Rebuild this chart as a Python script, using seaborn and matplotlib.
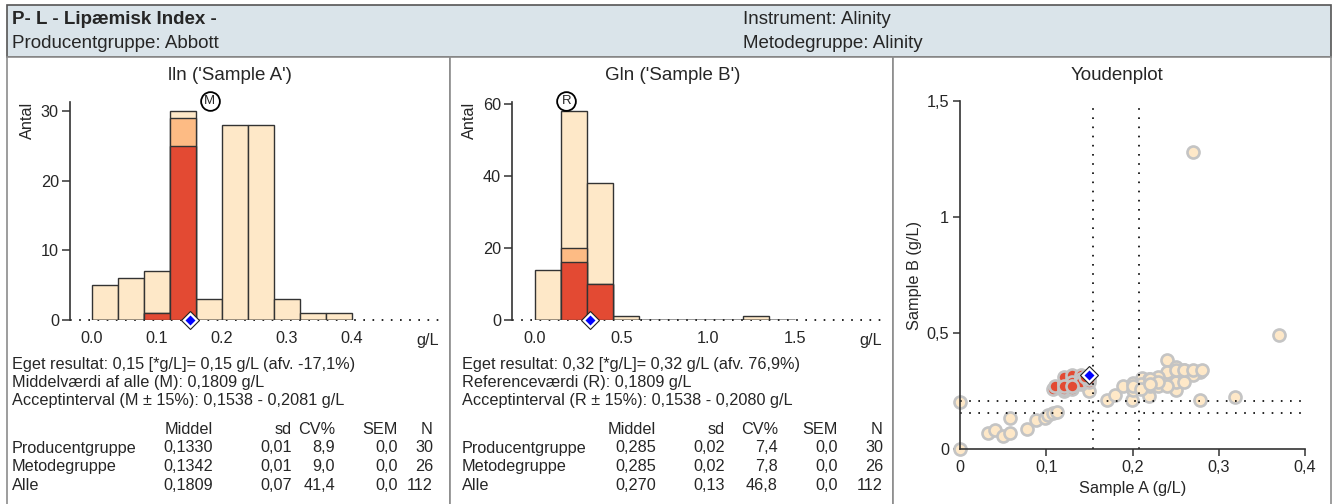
import numpy as np
import pandas as pd
import matplotlib
matplotlib.use("Agg")
import matplotlib.pyplot as plt
import seaborn as sns
from matplotlib.patches import Rectangle

# ---------------- data ----------------
edges_A = [0.0, 0.04, 0.08, 0.12, 0.16, 0.20, 0.24, 0.28, 0.32, 0.36, 0.40]
all_A = [5, 6, 7, 30, 3, 28, 28, 3, 1, 1]
prod_A = [0, 0, 1, 29, 0, 0, 0, 0, 0, 0]
meth_A = [0, 0, 1, 25, 0, 0, 0, 0, 0, 0]

edges_B = [0.0, 0.15, 0.30, 0.45, 0.60, 0.75, 0.90, 1.05, 1.20, 1.35, 1.50]
all_B = [14, 58, 38, 1, 0, 0, 0, 0, 1, 0]
prod_B = [0, 20, 10, 0, 0, 0, 0, 0, 0, 0]
meth_B = [0, 16, 10, 0, 0, 0, 0, 0, 0, 0]

own_A, own_B = 0.15, 0.32
mean_A, ref_B = 0.1809, 0.1809
acc_A = [0.1538, 0.2081]
acc_B = [0.1538, 0.2080]

ticks_A = [0.0, 0.1, 0.2, 0.3, 0.4]
ticklabels_A = ["0.0", "0.1", "0.2", "0.3", "0.4"]
ticks_B = [0.0, 0.5, 1.0, 1.5]
ticklabels_B = ["0.0", "0.5", "1.0", "1.5"]
yticks_A = [0, 10, 20, 30]
yticks_B = [0, 20, 40, 60]
youden_xticks = [0, 0.1, 0.2, 0.3, 0.4]
youden_xlabels = ["0", "0,1", "0,2", "0,3", "0,4"]
youden_yticks = [0, 0.5, 1.0, 1.5]
youden_ylabels = ["0", "0,5", "1", "1,5"]

light_x = [0, 0, 0.033, 0.041, 0.050, 0.058, 0.058, 0.078, 0.088, 0.099, 0.102, 0.108,
           0.112, 0.15, 0.17, 0.18, 0.189, 0.199, 0.20, 0.201, 0.211, 0.219, 0.219, 0.229,
           0.23, 0.24, 0.24, 0.24, 0.25, 0.25, 0.26, 0.26, 0.262, 0.278, 0.278, 0.278,
           0.319, 0.27, 0.37, 0.21, 0.22, 0.22, 0.23, 0.24, 0.25, 0.25, 0.26, 0.27, 0.27,
           0.26, 0.24, 0.25, 0.23, 0.20, 0.21, 0.22, 0.24, 0.26, 0.27, 0.28, 0.23, 0.22]
light_y = [0, 0.204, 0.070, 0.082, 0.056, 0.068, 0.132, 0.086, 0.125, 0.132, 0.146, 0.154,
           0.161, 0.25, 0.211, 0.233, 0.272, 0.211, 0.254, 0.286, 0.305, 0.30, 0.228, 0.30,
           0.283, 0.384, 0.319, 0.29, 0.352, 0.254, 0.341, 0.305, 0.326, 0.337, 0.33, 0.211,
           0.223, 1.28, 0.49, 0.28, 0.27, 0.29, 0.27, 0.30, 0.31, 0.29, 0.32, 0.33, 0.32,
           0.29, 0.33, 0.34, 0.31, 0.27, 0.26, 0.30, 0.27, 0.34, 0.34, 0.34, 0.29, 0.28]
red_x = [0.108, 0.11, 0.12, 0.12, 0.12, 0.12, 0.12, 0.13, 0.13, 0.13, 0.13, 0.13, 0.13,
         0.13, 0.13, 0.14, 0.14, 0.14, 0.14, 0.14, 0.14, 0.15, 0.15, 0.12, 0.13, 0.145]
red_y = [0.26, 0.27, 0.25, 0.26, 0.28, 0.29, 0.31, 0.26, 0.27, 0.28, 0.29, 0.30, 0.32,
         0.28, 0.29, 0.28, 0.29, 0.30, 0.32, 0.30, 0.29, 0.29, 0.30, 0.27, 0.27, 0.31]

info_A = ["Eget resultat: 0,15 [*g/L]= 0,15 g/L (afv. -17,1%)",
          "Middelværdi af alle (M): 0,1809 g/L",
          "Acceptinterval (M ± 15%): 0,1538 - 0,2081 g/L"]
info_B = ["Eget resultat: 0,32 [*g/L]= 0,32 g/L (afv. 76,9%)",
          "Referenceværdi (R): 0,1809 g/L",
          "Acceptinterval (R ± 15%): 0,1538 - 0,2080 g/L"]
table_header = ["Middel", "sd", "CV%", "SEM", "N"]
table_rows = ["Producentgruppe", "Metodegruppe", "Alle"]
table_A = [["0,1330", "0,01", "8,9", "0,0", "30"],
           ["0,1342", "0,01", "9,0", "0,0", "26"],
           ["0,1809", "0,07", "41,4", "0,0", "112"]]
table_B = [["0,285", "0,02", "7,4", "0,0", "30"],
           ["0,285", "0,02", "7,8", "0,0", "26"],
           ["0,270", "0,13", "46,8", "0,0", "112"]]

# ---------------- style ----------------
sns.set_style("white")
plt.rcParams["font.family"] = ["Liberation Sans", "DejaVu Sans"]
C_LIGHT, C_ORANGE, C_RED = "#fee8c8", "#fdbb84", "#e34a33"
EDGE = "#333333"
FS = 11.7      # body text
FT = 13.5      # header and panel titles

W, H = 1338, 504
fig = plt.figure(figsize=(W / 100, H / 100), dpi=100)

bg = fig.add_axes([0, 0, 1, 1], zorder=-5)
bg.set_xlim(0, W)
bg.set_ylim(H, 0)
bg.axis("off")

# header box and panels
bg.add_patch(Rectangle((7, 5), 1324, 52, facecolor="#dae4ea", edgecolor="#555555", lw=1.2))
for x0, x1 in [(7, 450), (450, 893), (893, 1331)]:
    bg.add_patch(Rectangle((x0, 57), x1 - x0, 460, facecolor="white", edgecolor="#8c8c8c", lw=1.2))

bg.text(12, 20, "P- L - Lipæmisk Index -", fontsize=FT, fontweight="bold", va="center")
bg.text(12, 44, "Producentgruppe: Abbott", fontsize=FT, va="center")
bg.text(743, 20, "Instrument: Alinity", fontsize=FT, va="center")
bg.text(743, 44, "Metodegruppe: Alinity", fontsize=FT, va="center")

bg.text(230, 75, "lln ('Sample A')", fontsize=FT, ha="center", va="center")
bg.text(673, 75, "Gln ('Sample B')", fontsize=FT, ha="center", va="center")
bg.text(1117, 75, "Youdenplot", fontsize=FT, ha="center", va="center")

bg.text(27, 120, "Antal", fontsize=FS, rotation=90, ha="center", va="center")
bg.text(469, 120, "Antal", fontsize=FS, rotation=90, ha="center", va="center")
bg.text(428, 340, "g/L", fontsize=FS, ha="center", va="center")
bg.text(871, 340, "g/L", fontsize=FS, ha="center", va="center")


def draw_text_block(x0, info, table, cols):
    for i, line in enumerate(info):
        bg.text(x0, 365 + 18 * i, line, fontsize=FS, va="center")
    for j, h in enumerate(table_header):
        bg.text(cols[j], 430, h, fontsize=FS, va="center", ha="right")
    for i, (name, row) in enumerate(zip(table_rows, table)):
        y = 448 + 18.5 * i
        bg.text(x0, y, name, fontsize=FS, va="center")
        for j, v in enumerate(row):
            bg.text(cols[j], y, v, fontsize=FS, va="center", ha="right")


draw_text_block(12, info_A, table_A, [213, 292, 335, 398, 433])
draw_text_block(462, info_B, table_B, [656, 725, 778, 838, 883])


def px_axes(l, t, r, b):
    return fig.add_axes([l / W, 1 - b / H, (r - l) / W, (b - t) / H])


def hist_panel(ax, edges, layers, xlim, ylim, xticks, xlabels, yticks, marker_x, own, letter):
    centers = [(a + b) / 2 for a, b in zip(edges[:-1], edges[1:])]
    for counts, col in layers:
        sns.histplot(x=centers, weights=counts, bins=edges, color=col, alpha=1,
                     edgecolor=EDGE, linewidth=1.0, ax=ax)
    ax.set_xlim(*xlim)
    ax.set_ylim(*ylim)
    ax.set_ylabel("")
    ax.set_xlabel("")
    for s in ["top", "right", "bottom"]:
        ax.spines[s].set_visible(False)
    ax.spines["left"].set_color(EDGE)
    ax.spines["left"].set_linewidth(1.2)
    ax.set_yticks(yticks)
    ax.tick_params(axis="y", length=6, width=1.1, color=EDGE, pad=2, labelsize=FS, left=True)
    ax.set_xticks(xticks)
    ax.set_xticklabels(xlabels)
    ax.tick_params(axis="x", length=0, pad=8, labelsize=FS)
    ax.plot(xlim, [0, 0], color="black", lw=1.2, linestyle=(0, (1, 4.5)), zorder=0, clip_on=False)
    ax.plot([own], [0], marker="D", ms=9, mfc="white", mec="#222222", mew=0.8, clip_on=False, zorder=10)
    ax.plot([own], [0], marker="D", ms=5.5, mfc="#0000ff", mec="none", clip_on=False, zorder=11)
    ytop = ylim[1] * 1.006
    ax.plot([marker_x], [ytop], marker="o", ms=13.5, mfc="white", mec="black", mew=1.3, clip_on=False, zorder=10)
    ax.text(marker_x, ytop, letter, fontsize=9.5, ha="center", va="center", zorder=11)


axA = px_axes(70, 102, 440, 320)
hist_panel(axA, edges_A, [(all_A, C_LIGHT), (prod_A, C_ORANGE), (meth_A, C_RED)],
           (-22 / 650, 0.4 + 88 / 650), (0, 218 / 6.967), ticks_A, ticklabels_A, yticks_A,
           mean_A, own_A, "M")

axB = px_axes(512, 102, 885, 320)
hist_panel(axB, edges_B, [(all_B, C_LIGHT), (prod_B, C_ORANGE), (meth_B, C_RED)],
           (-23 / 173.33, 1.5 + 90 / 173.33), (0, 218 / 3.605), ticks_B, ticklabels_B, yticks_B,
           ref_B, own_B, "R")

# Youden plot
axY = px_axes(960, 101, 1305, 449)
dfl = pd.DataFrame({"A": light_x, "B": light_y})
dfr = pd.DataFrame({"A": red_x, "B": red_y})
sns.scatterplot(data=dfl, x="A", y="B", s=75, color=C_LIGHT, edgecolor="#c4c4c4", linewidth=1.9,
                ax=axY, clip_on=False, zorder=3)
sns.scatterplot(data=dfr, x="A", y="B", s=75, color=C_RED, edgecolor="#c4c4c4", linewidth=1.9,
                ax=axY, clip_on=False, zorder=4)
axY.set_xlim(0, 0.4)
axY.set_ylim(0, 1.5)
dots = (0, (1, 4.5))
for v in acc_A:
    axY.axvline(v, color="black", lw=1.2, linestyle=dots, zorder=5)
for v in acc_B:
    axY.axhline(v, color="black", lw=1.2, linestyle=dots, zorder=5)
axY.plot([own_A], [own_B], marker="D", ms=9, mfc="white", mec="#222222", mew=0.8, zorder=10, clip_on=False)
axY.plot([own_A], [own_B], marker="D", ms=5.5, mfc="#0000ff", mec="none", zorder=11, clip_on=False)
for s in ["top", "right"]:
    axY.spines[s].set_visible(False)
for s in ["left", "bottom"]:
    axY.spines[s].set_color(EDGE)
    axY.spines[s].set_linewidth(1.2)
    axY.spines[s].set_zorder(6)
axY.set_xticks(youden_xticks)
axY.set_xticklabels(youden_xlabels)
axY.set_yticks(youden_yticks)
axY.set_yticklabels(youden_ylabels)
axY.tick_params(axis="both", length=5, width=1.1, color=EDGE, pad=3, labelsize=FS,
                left=True, bottom=True)
axY.set_xlabel("Sample A (g/L)", fontsize=FS, labelpad=4)
axY.set_ylabel("Sample B (g/L)", fontsize=FS, labelpad=3)

fig.savefig("out.png", dpi=100)
